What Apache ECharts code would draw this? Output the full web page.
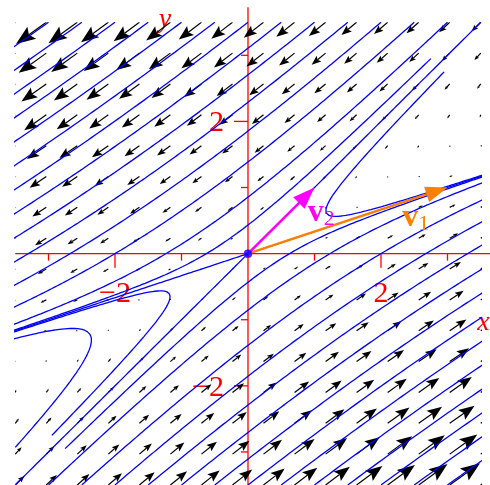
<!DOCTYPE html>
<html>
<head>
<meta charset="utf-8">
<script src="https://cdn.jsdelivr.net/npm/echarts@6/dist/echarts.min.js"></script>
<style>
  html, body { margin: 0; padding: 0; background: #ffffff; }
  #chart { width: 490px; height: 485px; }
</style>
</head>
<body>
<div id="chart"></div>
<script>
// Linear system  x' = A x  (saddle with eigenvalues 1 and -2)
const systemMatrix = [[2.5, -4.5], [1.5, -3.5]];
// Eigenvectors drawn from the origin
const eigenVector1 = [3, 1];
const eigenVector2 = [1, 1];
// Visible window
const viewMin = -3.5;
const viewMax = 3.5;
// Axis ticks and the ones carrying a number
const axisTicks = [-3, -2, -1, 1, 2, 3];
const labelledTicks = [-2, 2];
// Direction-field grid (16 x 16 over the window, arrows start at the grid point)
const arrowColumnsX = [-3.5, -3.033, -2.567, -2.1, -1.633, -1.167, -0.7, -0.233, 0.233, 0.7, 1.167, 1.633, 2.1, 2.567, 3.033, 3.5];
const arrowRowsY = [-3.5, -3.033, -2.567, -2.1, -1.633, -1.167, -0.7, -0.233, 0.233, 0.7, 1.167, 1.633, 2.1, 2.567, 3.033, 3.5];
// Trajectory starting points on the top edge (y = 3.5) and bottom edge (y = -3.5)
const topStartsX = [-3, -2.5, -2, -1.5, -1, -0.5, 0, 0.5, 1, 1.5, 2, 2.5, 3, 3.5];
const bottomStartsX = [-3.5, -3, -2.5, -2, -1.5, -1, -0.5, 0, 0.5, 1, 1.5, 2, 2.5, 3];
// Starting points near the stable line y = x, one on the left edge,
// and two just off the origin on the unstable line
const innerStartsX = [2.75, 2.95, -2.75, -2.95, -3.5, 0.003, -0.003];
const innerStartsY = [2.95, 2.75, -2.95, -2.75, -2.93, 0.001, -0.001];

function field(x, y) {
  return [systemMatrix[0][0] * x + systemMatrix[0][1] * y,
          systemMatrix[1][0] * x + systemMatrix[1][1] * y];
}

// Forward RK4 integration until the path leaves the window
function trajectory(x0, y0) {
  const h = 0.004;
  const pts = [[x0, y0]];
  let x = x0, y = y0;
  for (let i = 0; i < 5000; i++) {
    const k1 = field(x, y);
    const k2 = field(x + h / 2 * k1[0], y + h / 2 * k1[1]);
    const k3 = field(x + h / 2 * k2[0], y + h / 2 * k2[1]);
    const k4 = field(x + h * k3[0], y + h * k3[1]);
    x += h / 6 * (k1[0] + 2 * k2[0] + 2 * k3[0] + k4[0]);
    y += h / 6 * (k1[1] + 2 * k2[1] + 2 * k3[1] + k4[1]);
    pts.push([x, y]);
    if (Math.abs(x) > 3.7 || Math.abs(y) > 3.7) break;
    if (Math.abs(x) + Math.abs(y) < 1e-4) break;
  }
  return pts;
}

const starts = [];
topStartsX.forEach(x => starts.push([x, viewMax]));
bottomStartsX.forEach(x => starts.push([x, viewMin]));
innerStartsX.forEach((x, i) => starts.push([x, innerStartsY[i]]));

const streamSeries = starts.map(s => ({
  type: 'line',
  data: trajectory(s[0], s[1]),
  showSymbol: false,
  symbol: 'none',
  clip: true,
  silent: true,
  lineStyle: { color: '#0000ff', width: 1.3 },
  z: 3
}));

const gridPoints = [];
arrowColumnsX.forEach(x => arrowRowsY.forEach(y => gridPoints.push([x, y])));

const arrowPixelsPerUnit = 1.3;

// Arrow whose tail sits on the grid point
function arrowShape(api, p, v, scale, color, shaftWidth, headLen, headHalf) {
  const tail = api.coord(p);
  const mag = Math.hypot(v[0], v[1]);
  if (mag === 0) return null;
  const L = Math.max(mag * scale, 1.5);
  const dx = v[0] / mag, dy = -v[1] / mag;
  const tip = [tail[0] + dx * L, tail[1] + dy * L];
  const hl = headLen * L, hw = headHalf * L;
  const base = [tip[0] - dx * hl, tip[1] - dy * hl];
  const notch = [tip[0] - dx * hl * 0.82, tip[1] - dy * hl * 0.82];
  return {
    type: 'group',
    children: [
      { type: 'line', shape: { x1: tail[0], y1: tail[1], x2: notch[0], y2: notch[1] },
        style: { stroke: color, lineWidth: shaftWidth } },
      { type: 'polygon', shape: { points: [tip, [base[0] - dy * hw, base[1] + dx * hw], notch, [base[0] + dy * hw, base[1] - dx * hw]] },
        style: { fill: color } }
    ]
  };
}

const fieldSeries = {
  type: 'custom',
  data: gridPoints,
  clip: true,
  silent: true,
  z: 2,
  renderItem: (params, api) => {
    const p = [api.value(0), api.value(1)];
    return arrowShape(api, p, field(p[0], p[1]), arrowPixelsPerUnit, '#000000', 1.2, 0.52, 0.2);
  }
};

// Coordinate axes with ticks and numbers
const axesSeries = {
  type: 'custom',
  data: [[0, 0]],
  clip: false,
  silent: true,
  z: 1,
  renderItem: (params, api) => {
    const o = api.coord([0, 0]);
    const left = api.coord([viewMin, 0])[0];
    const right = api.coord([viewMax, 0])[0] + 10;
    const top = api.coord([0, viewMax])[1] - 15;
    const bottom = api.coord([0, viewMin])[1];
    const red = '#ff0000';
    const children = [
      { type: 'line', shape: { x1: left, y1: o[1], x2: right, y2: o[1] }, style: { stroke: red, lineWidth: 1.3 } },
      { type: 'line', shape: { x1: o[0], y1: top, x2: o[0], y2: bottom }, style: { stroke: red, lineWidth: 1.3 } }
    ];
    axisTicks.forEach(t => {
      const len = labelledTicks.indexOf(t) >= 0 ? 14 : 7;
      const px = api.coord([t, 0])[0];
      const py = api.coord([0, t])[1];
      children.push({ type: 'line', shape: { x1: px, y1: o[1], x2: px, y2: o[1] + len }, style: { stroke: red, lineWidth: 1.3 } });
      children.push({ type: 'line', shape: { x1: o[0], y1: py, x2: o[0] - len, y2: py }, style: { stroke: red, lineWidth: 1.3 } });
    });
    const font = '30px "Liberation Serif", "DejaVu Serif", serif';
    labelledTicks.forEach(t => {
      const txt = t < 0 ? '\u2212' + Math.abs(t) : String(t);
      const px = api.coord([t, 0])[0];
      const py = api.coord([0, t])[1];
      children.push({ type: 'text', style: { text: txt, x: px, y: o[1] + 40, fill: red, font: font, textAlign: 'center', textVerticalAlign: 'middle' } });
      children.push({ type: 'text', style: { text: txt, x: o[0] - 24, y: py + 2, fill: red, font: font, textAlign: 'right', textVerticalAlign: 'middle' } });
    });
    const italic = 'italic 28px "Liberation Serif", "DejaVu Serif", serif';
    const xl = api.coord([viewMax, -1.05]);
    children.push({ type: 'text', style: { text: 'x', x: xl[0] + 9, y: xl[1], fill: red, font: italic, textAlign: 'right', textVerticalAlign: 'middle' } });
    const yl = api.coord([-1.25, viewMax]);
    children.push({ type: 'text', style: { text: 'y', x: yl[0], y: yl[1] - 3, fill: red, font: italic, textAlign: 'center', textVerticalAlign: 'middle' } });
    return { type: 'group', children: children };
  }
};

const vectorColors = ['#ff8000', '#ff00ff'];
const vectorNames = ['1', '2'];
const vectorLabelAt = [[2.32, 0.55], [0.9, 0.62]];
const vectorSeries = {
  type: 'custom',
  data: [eigenVector1, eigenVector2],
  clip: false,
  silent: true,
  z: 5,
  renderItem: (params, api) => {
    const v = [api.value(0), api.value(1)];
    const o = api.coord([0, 0]);
    const e = api.coord(v);
    const len = Math.hypot(e[0] - o[0], e[1] - o[1]);
    const dx = (e[0] - o[0]) / len, dy = (e[1] - o[1]) / len;
    const hl = 22, hw = 8;
    const base = [e[0] - dx * hl, e[1] - dy * hl];
    const color = vectorColors[params.dataIndex];
    const label = api.coord(vectorLabelAt[params.dataIndex]);
    return {
      type: 'group',
      children: [
        { type: 'line', shape: { x1: o[0], y1: o[1], x2: base[0], y2: base[1] }, style: { stroke: color, lineWidth: 2.5 } },
        { type: 'polygon', shape: { points: [e, [base[0] - dy * hw, base[1] + dx * hw], [base[0] + dy * hw, base[1] - dx * hw]] }, style: { fill: color } },
        { type: 'text', style: { text: 'v', x: label[0], y: label[1], fill: color, font: 'bold 32px "Liberation Serif", serif', textAlign: 'left', textVerticalAlign: 'middle' } },
        { type: 'text', style: { text: vectorNames[params.dataIndex], x: label[0] + 16, y: label[1] + 7, fill: color, font: '22px "Liberation Serif", serif', textAlign: 'left', textVerticalAlign: 'middle' } }
      ]
    };
  }
};

const originSeries = {
  type: 'scatter',
  data: [[0, 0]],
  symbolSize: 8,
  itemStyle: { color: '#0000ff', borderColor: '#8000ff', borderWidth: 1 },
  silent: true,
  z: 6
};

const chart = echarts.init(document.getElementById('chart'), null, { renderer: 'canvas' });
chart.setOption({
  animation: false,
  backgroundColor: '#ffffff',
  grid: { left: 15.25, top: 22.25, width: 465.5, height: 465.5 },
  xAxis: { type: 'value', min: viewMin, max: viewMax, show: false },
  yAxis: { type: 'value', min: viewMin, max: viewMax, show: false },
  series: [axesSeries, fieldSeries].concat(streamSeries, [vectorSeries, originSeries])
});
</script>
</body>
</html>
